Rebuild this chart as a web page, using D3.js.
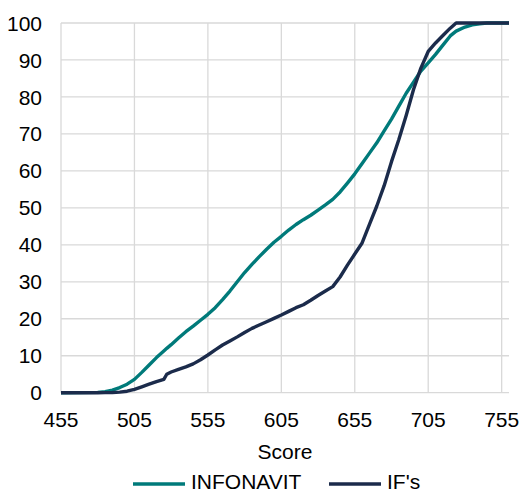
<!DOCTYPE html>
<html>
<head>
<meta charset="utf-8">
<script src="https://cdn.jsdelivr.net/npm/d3@7.9.0/dist/d3.min.js"></script>
<style>
  html, body { margin: 0; padding: 0; background: #fff; }
  svg text { font-family: "Liberation Sans", Arial, sans-serif; fill: #000; }
</style>
</head>
<body>
<svg id="chart" width="521" height="493"></svg>
<script>
// score grid (x values) shared by both series
const scores = [455, 480, 485, 490, 495, 500, 505, 510, 515, 520, 525, 527, 530, 535, 540, 545, 550, 555, 560, 565, 570, 575, 580, 585, 590, 595, 600, 605, 610, 615, 620, 625, 630, 635, 640, 645, 650, 655, 660, 665, 670, 675, 680, 685, 690, 695, 700, 705, 710, 715, 720, 724, 730, 735, 740, 745, 760];

// cumulative % INFONAVIT
const infonavit = [0, 0.1, 0.3, 0.7, 1.4, 2.3, 3.6, 5.5, 7.5, 9.5, 11.3, 12, 13, 14.8, 16.5, 18, 19.6, 21.2, 23, 25.2, 27.5, 30, 32.5, 34.7, 36.8, 38.8, 40.7, 42.3, 44, 45.5, 46.8, 48, 49.4, 50.8, 52.3, 54.3, 56.7, 59.2, 62, 64.8, 67.6, 70.8, 74, 77.5, 81, 84, 87, 89.2, 91.5, 94, 96.5, 97.8, 98.9, 99.5, 99.8, 100, 100];

// cumulative % IF's
const ifs = [0, 0, 0.02, 0.05, 0.15, 0.4, 0.9, 1.6, 2.3, 3.0, 3.6, 5.0, 5.6, 6.3, 7.0, 7.8, 8.9, 10.2, 11.6, 12.9, 14.0, 15.1, 16.3, 17.4, 18.3, 19.2, 20.1, 21.0, 22.0, 23.0, 23.8, 25.0, 26.3, 27.5, 28.7, 31.3, 34.5, 37.5, 40.5, 45.5, 50.5, 56, 62.5, 68.5, 75, 82, 87.8, 92.3, 94.6, 96.6, 98.6, 100, 100, 100, 100, 100, 100];

const xTicks = [455, 505, 555, 605, 655, 705, 755];
const yTicks = [0, 10, 20, 30, 40, 50, 60, 70, 80, 90, 100];

const seriesNames = ["INFONAVIT", "IF's"];
const seriesColors = ["#007a7a", "#1b2b4b"];

const svg = d3.select("#chart");
const plotLeft = 61, plotRight = 509, plotTop = 23, plotBottom = 392.7;
const fontSize = "21px";

const x = d3.scaleLinear().domain([455, 760]).range([plotLeft, plotRight]);
const y = d3.scaleLinear().domain([0, 100]).range([plotBottom, plotTop]);

// grid
const grid = svg.append("g").attr("stroke", "#d9d9d9").attr("stroke-width", 1.3);
grid.selectAll(".h").data(yTicks).enter().append("line")
    .attr("x1", plotLeft).attr("x2", plotRight)
    .attr("y1", d => y(d)).attr("y2", d => y(d));
grid.selectAll(".v").data(xTicks).enter().append("line")
    .attr("x1", d => x(d)).attr("x2", d => x(d))
    .attr("y1", plotTop).attr("y2", plotBottom);

// y labels
svg.append("g").selectAll("text").data(yTicks).enter().append("text")
    .attr("x", 42).attr("y", d => y(d)).attr("dy", "0.36em")
    .attr("text-anchor", "end").style("font-size", fontSize)
    .text(d => d);

// x labels
svg.append("g").selectAll("text").data(xTicks).enter().append("text")
    .attr("x", d => x(d)).attr("y", 426.5)
    .attr("text-anchor", "middle").style("font-size", fontSize)
    .text(d => d);

svg.append("text").attr("x", (plotLeft + plotRight) / 2).attr("y", 459)
    .attr("text-anchor", "middle").style("font-size", fontSize).text("Score");

// lines
const line = d3.line().x(d => x(d[0])).y(d => y(d[1]));
const seriesValues = [infonavit, ifs];
seriesValues.forEach((vals, i) => {
    svg.append("path")
        .datum(scores.map((s, j) => [s, vals[j]]))
        .attr("fill", "none")
        .attr("stroke", seriesColors[i])
        .attr("stroke-width", 3.4)
        .attr("stroke-linejoin", "round")
        .attr("d", line);
});

// legend
const legendX = [133, 329];
seriesNames.forEach((name, i) => {
    svg.append("line")
        .attr("x1", legendX[i]).attr("x2", legendX[i] + 52)
        .attr("y1", 484).attr("y2", 484)
        .attr("stroke", seriesColors[i]).attr("stroke-width", 3.5);
    svg.append("text")
        .attr("x", legendX[i] + 58).attr("y", 488.5)
        .style("font-size", fontSize).text(name);
});
</script>
</body>
</html>
